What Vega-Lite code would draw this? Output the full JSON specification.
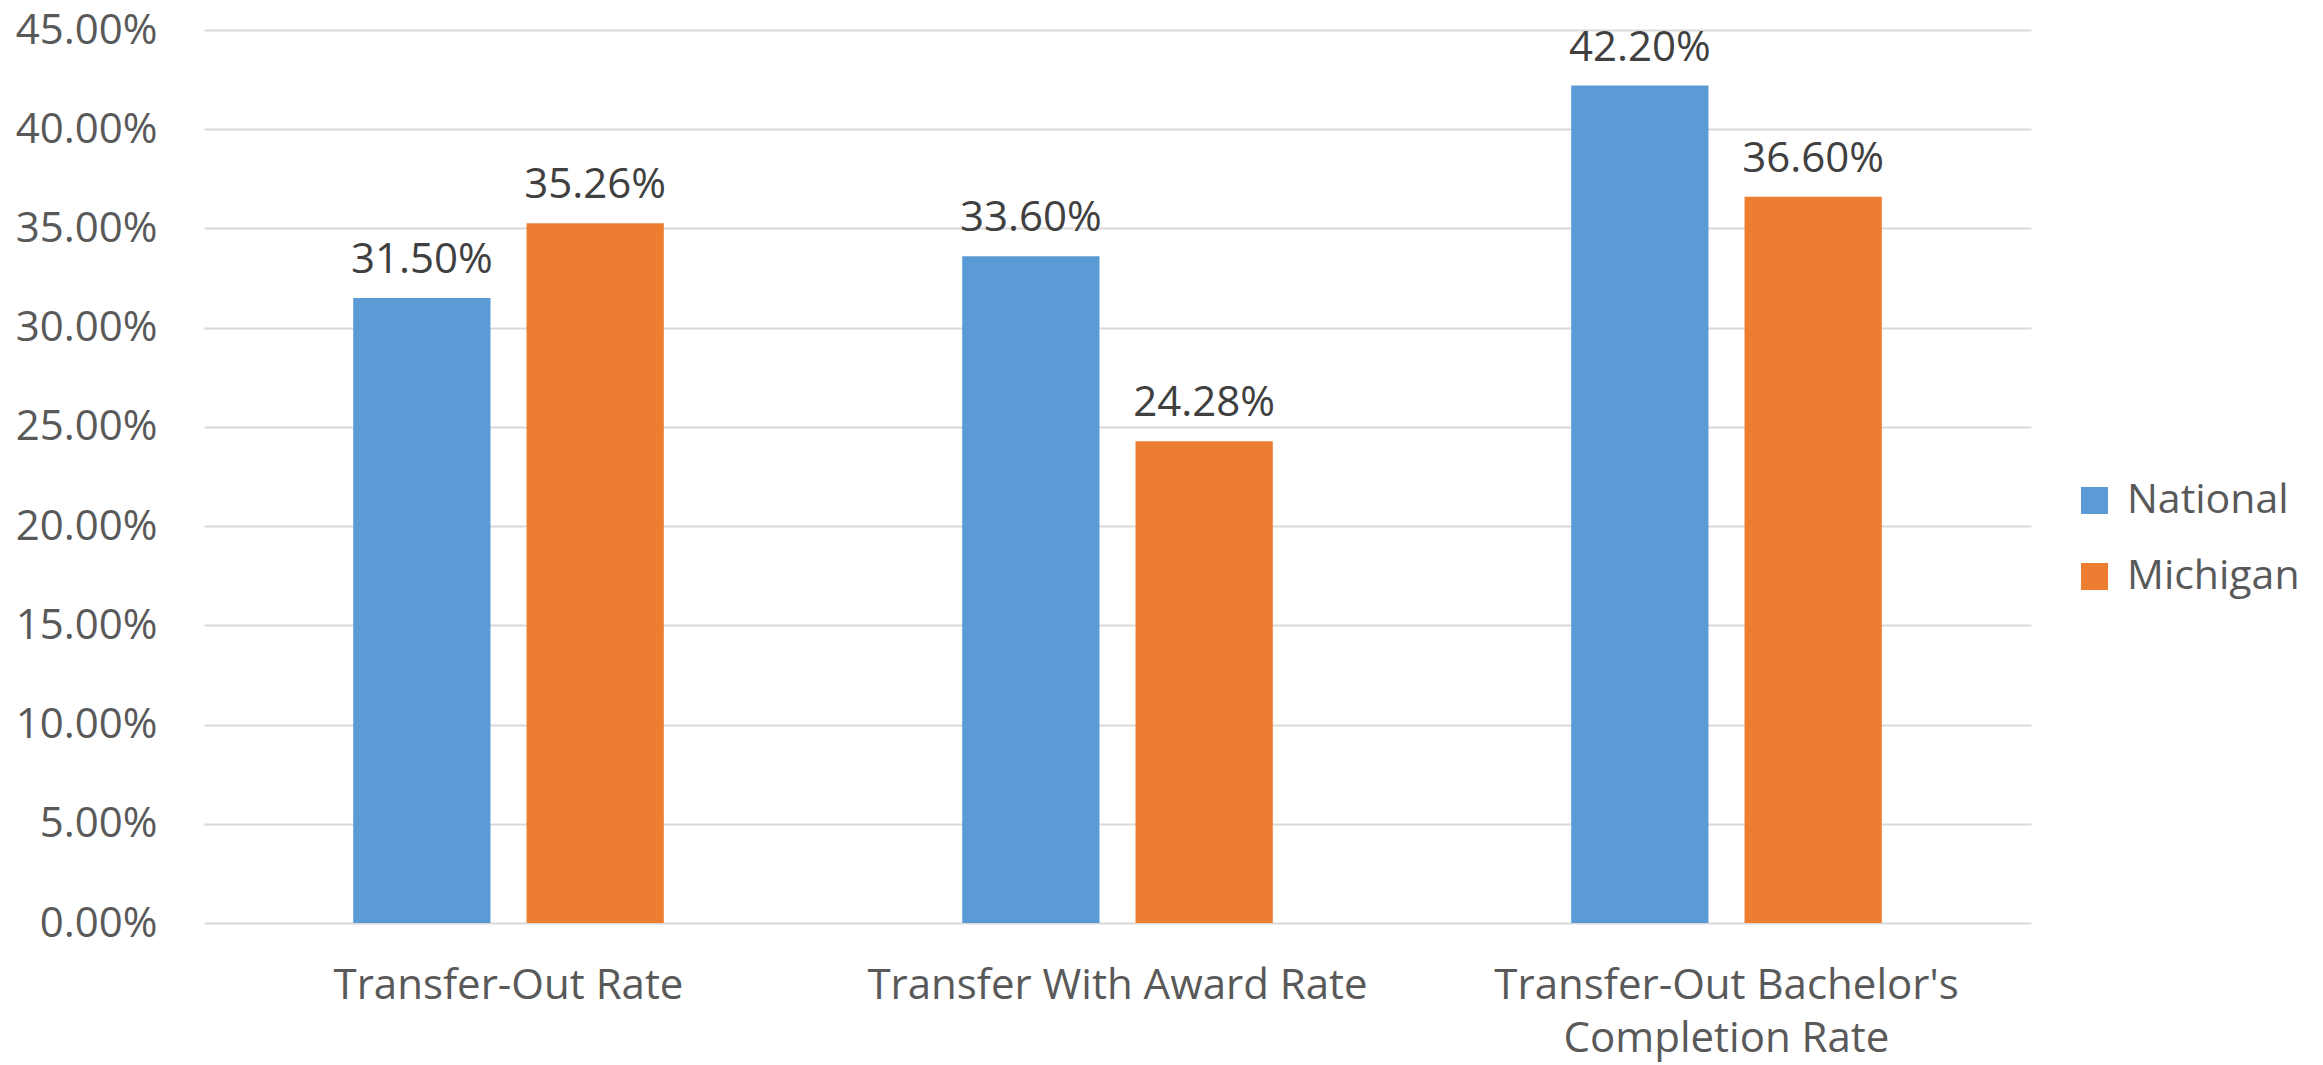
{
  "$schema": "https://vega.github.io/schema/vega-lite/v6.json",
  "width": 1827,
  "height": 893,
  "autosize": {"type": "none"},
  "padding": {"left": 204, "top": 30, "right": 292, "bottom": 142},
  "background": "white",
  "config": {
    "view": {"stroke": null},
    "font": "Open Sans",
    "axis": {"labelFont": "Open Sans", "labelFontSize": 42, "labelColor": "#595959"},
    "legend": {"labelFont": "Open Sans", "labelFontSize": 41, "labelColor": "#595959"}
  },
  "data": {
    "values": [
      {"measure": "Transfer-Out Rate", "group": "National", "value": 0.315},
      {"measure": "Transfer-Out Rate", "group": "Michigan", "value": 0.3526},
      {"measure": "Transfer With Award Rate", "group": "National", "value": 0.336},
      {"measure": "Transfer With Award Rate", "group": "Michigan", "value": 0.2428},
      {"measure": "Transfer-Out Bachelor's Completion Rate", "group": "National", "value": 0.422},
      {"measure": "Transfer-Out Bachelor's Completion Rate", "group": "Michigan", "value": 0.366}
    ]
  },
  "encoding": {
    "x": {
      "field": "measure", "type": "nominal", "sort": null, "title": null,
      "scale": {"paddingInner": 0.49, "paddingOuter": 0.245},
      "axis": {
        "ticks": false, "domain": false, "labelAngle": 0, "labelPadding": 42,
        "labelLineHeight": 53, "labelLimit": 0,
        "labelExpr": "datum.label == \"Transfer-Out Bachelor's Completion Rate\" ? [\"Transfer-Out Bachelor's\", \"Completion Rate\"] : datum.label"
      }
    },
    "xOffset": {
      "field": "group", "type": "nominal",
      "scale": {"domain": ["National", "Michigan"], "paddingInner": 0.208, "paddingOuter": 0}
    },
    "y": {
      "field": "value", "type": "quantitative", "title": null,
      "scale": {"domain": [0, 0.45], "nice": false},
      "axis": {
        "format": ".2%", "values": [0, 0.05, 0.1, 0.15, 0.2, 0.25, 0.3, 0.35, 0.4, 0.45],
        "labelOverlap": false, "labelFlush": false,
        "ticks": false, "domain": false, "labelPadding": 47,
        "gridColor": "#d9d9d9", "gridWidth": 2
      }
    }
  },
  "layer": [
    {
      "mark": {"type": "bar"},
      "encoding": {
        "color": {
          "field": "group", "type": "nominal", "title": null,
          "scale": {"domain": ["National", "Michigan"], "range": ["#5B9BD5", "#ED7D31"]},
          "legend": {
            "orient": "none", "legendX": 1870, "legendY": 450,
            "symbolType": "square", "symbolSize": 729, "symbolStrokeWidth": 0,
            "rowPadding": 34, "labelOffset": 12, "padding": 0, "labelLimit": 0
          }
        }
      }
    },
    {
      "mark": {"type": "text", "baseline": "alphabetic", "dy": -25, "fontSize": 42, "color": "#404040", "font": "Open Sans"},
      "encoding": {
        "text": {"field": "value", "type": "quantitative", "format": ".2%"}
      }
    }
  ]
}
